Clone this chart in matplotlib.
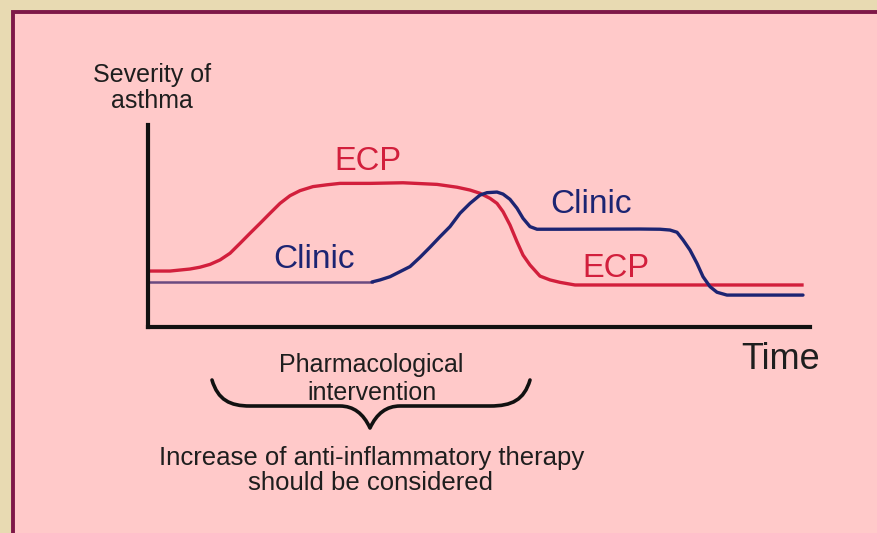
import matplotlib
matplotlib.use("Agg")
import matplotlib.pyplot as plt
from matplotlib.path import Path
from matplotlib.patches import PathPatch, Rectangle

plt.rcParams['font.family'] = ['Liberation Sans', 'DejaVu Sans']

# curve values (time 0-100, severity 0-100)
ecp_t = [0, 3.32, 4.83, 6.34, 7.85, 9.37, 10.88, 12.39, 13.90, 15.41,
         16.92, 18.43, 19.94, 21.45, 22.96, 24.92, 27.04, 29.0, 33.53, 38.52,
         43.66, 46.68, 48.64, 50.15, 51.66, 52.72, 53.63, 54.68, 55.74, 56.65,
         57.70, 59.21, 60.73, 62.24, 64.50, 98.79]
ecp_s = [27.7, 27.7, 28.2, 28.7, 29.6, 31.0, 33.2, 36.5, 41.4, 46.4,
         51.3, 56.3, 61.2, 65.0, 67.5, 69.5, 70.4, 71.1, 71.1, 71.4,
         70.6, 69.2, 67.8, 66.2, 63.7, 61.2, 57.1, 50.5, 42.2, 35.6,
         30.7, 25.2, 23.3, 22.1, 20.8, 20.8]

clinic_t = [0, 33.84, 35.05, 36.56, 38.07, 39.58, 41.09, 42.60, 44.11, 45.62,
            47.13, 48.64, 50.15, 51.21, 52.72, 53.63, 54.68, 55.74, 56.65, 57.70,
            58.76, 62.24, 74.32, 77.34, 78.85, 79.91, 80.82, 81.87, 82.93, 83.84,
            84.89, 85.95, 87.46, 90.94, 98.94]
clinic_s = [22.3, 22.3, 23.3, 24.9, 27.4, 29.9, 34.5, 39.5, 44.7, 49.7,
            56.3, 61.2, 65.3, 66.5, 66.8, 65.8, 63.2, 58.8, 53.8, 49.7,
            48.4, 48.4, 48.5, 48.4, 48.0, 46.9, 43.1, 38.1, 31.5, 24.9,
            20.0, 17.2, 15.8, 15.8, 15.8]

RED = '#d21f3c'
BLUE = '#1c2472'
INK = '#1e1e1e'

W, H = 878, 533
fig = plt.figure(figsize=(W / 100, H / 100), dpi=100)
fig.patch.set_facecolor('#e8dab2')

# overlay in pixel coordinates for the box, labels and brace
bg = fig.add_axes([0, 0, 1, 1])
bg.set_xlim(0, W)
bg.set_ylim(H, 0)
bg.axis('off')
bg.add_patch(Rectangle((13, 12), W, H, facecolor='#ffc9c9',
                       edgecolor='#7e1848', linewidth=2.8))

# plot area
ax = fig.add_axes([148 / W, 1 - 327 / H, 662 / W, 202 / H])
ax.set_xlim(0, 100)
ax.set_ylim(0, 100)
ax.patch.set_alpha(0)
for side in ['top', 'right']:
    ax.spines[side].set_visible(False)
for side in ['left', 'bottom']:
    ax.spines[side].set_linewidth(3)
    ax.spines[side].set_color('#111111')
ax.set_xticks([])
ax.set_yticks([])

ax.plot(ecp_t, ecp_s, color=RED, lw=2.4, solid_joinstyle='round')
# flat start of the clinic line is drawn thinner and paler, as in the original
ax.plot(clinic_t[:2], clinic_s[:2], color='#6a4a80', lw=1.8)
ax.plot(clinic_t[1:], clinic_s[1:], color=BLUE, lw=2.4, solid_joinstyle='round',
        solid_capstyle='round')

# labels
bg.text(152, 82, 'Severity of', ha='center', va='baseline', fontsize=18, color=INK)
bg.text(152, 108, 'asthma', ha='center', va='baseline', fontsize=18, color=INK)
bg.text(368, 170, 'ECP', ha='center', va='baseline', fontsize=23.5, color=RED)
bg.text(314, 268, 'Clinic', ha='center', va='baseline', fontsize=24, color=BLUE)
bg.text(591, 213, 'Clinic', ha='center', va='baseline', fontsize=24, color=BLUE)
bg.text(616, 277, 'ECP', ha='center', va='baseline', fontsize=23.5, color=RED)
bg.text(781, 369, 'Time', ha='center', va='baseline', fontsize=26, color=INK)
bg.text(371, 372, 'Pharmacological', ha='center', va='baseline', fontsize=18, color=INK)
bg.text(372, 400, 'intervention', ha='center', va='baseline', fontsize=18, color=INK)
bg.text(372, 465, 'Increase of anti-inflammatory therapy', ha='center',
        va='baseline', fontsize=18.5, color=INK)
bg.text(371, 490, 'should be considered', ha='center', va='baseline',
        fontsize=18.5, color=INK)

# curly brace
verts = [(212, 380), (218, 400), (230, 406), (250, 406),
         (340, 406), (360, 406), (370, 428),
         (380, 406), (400, 406), (490, 406),
         (512, 406), (524, 400), (530, 380)]
codes = [Path.MOVETO, Path.CURVE4, Path.CURVE4, Path.CURVE4,
         Path.LINETO, Path.CURVE3, Path.CURVE3,
         Path.CURVE3, Path.CURVE3, Path.LINETO,
         Path.CURVE4, Path.CURVE4, Path.CURVE4]
bg.add_patch(PathPatch(Path(verts, codes), facecolor='none', edgecolor='#111111',
                       lw=2.6, capstyle='round', joinstyle='round'))

fig.savefig('out.png', dpi=100, facecolor=fig.get_facecolor())
